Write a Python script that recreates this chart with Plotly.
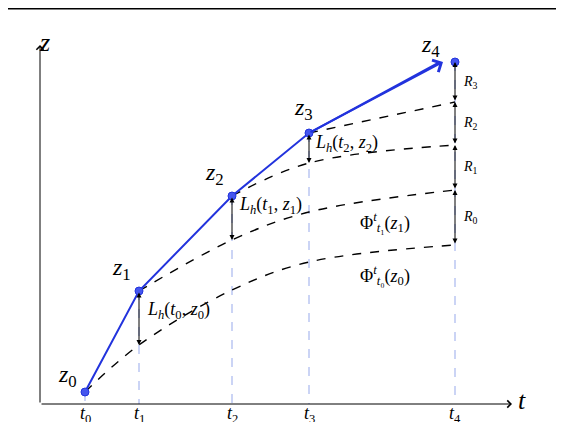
import plotly.graph_objects as go

# diagram data (pixel-like units, y downward)
t_pos = [85, 139, 232, 309, 455]
t_labels = ["<i>t</i><sub>0</sub>", "<i>t</i><sub>1</sub>", "<i>t</i><sub>2</sub>", "<i>t</i><sub>3</sub>", "<i>t</i><sub>4</sub>"]
z_vals = [392, 291, 196, 133, 62]
z_labels = ["<i>z</i><sub>0</sub>", "<i>z</i><sub>1</sub>", "<i>z</i><sub>2</sub>", "<i>z</i><sub>3</sub>", "<i>z</i><sub>4</sub>"]
flow_x = [[85, 139, 232, 309, 455], [139, 232, 309, 455], [232, 309, 455], [309, 455]]
flow_y = [[392, 345, 290, 262, 245], [291, 240, 212, 190], [196, 163, 145], [133, 102]]
R_labels = ["<i>R</i><sub>0</sub>", "<i>R</i><sub>1</sub>", "<i>R</i><sub>2</sub>", "<i>R</i><sub>3</sub>"]
L_labels = ["<i>L<sub>h</sub></i>(<i>t</i><sub>0</sub>, <i>z</i><sub>0</sub>)",
            "<i>L<sub>h</sub></i>(<i>t</i><sub>1</sub>, <i>z</i><sub>1</sub>)",
            "<i>L<sub>h</sub></i>(<i>t</i><sub>2</sub>, <i>z</i><sub>2</sub>)"]
phi_labels = ["Φ<sup><i>t</i></sup><sub><i>t</i>₀</sub>(<i>z</i><sub>0</sub>)",
              "Φ<sup><i>t</i></sup><sub><i>t</i>₁</sub>(<i>z</i><sub>1</sub>)"]
axis_y = 404
FONT = "Liberation Serif"

fig = go.Figure()
for x, y in zip(t_pos, z_vals):
    fig.add_trace(go.Scatter(x=[x, x], y=[y, axis_y], mode="lines",
                             line=dict(color="#a9b8ee", dash="dash", width=1.2), hoverinfo="skip"))
for fx, fy in zip(flow_x, flow_y):
    fig.add_trace(go.Scatter(x=fx, y=fy, mode="lines", line=dict(color="black", dash="dash", width=1.4, shape="spline"),
                             hoverinfo="skip"))
fig.add_trace(go.Scatter(x=t_pos[:4] + [t_pos[4] - 15], y=z_vals, mode="lines", line=dict(color="#2233dd", width=2), hoverinfo="skip"))
fig.add_trace(go.Scatter(x=t_pos, y=z_vals, mode="markers",
                         marker=dict(color="#4455ee", size=8, line=dict(color="#2233dd", width=1)), hoverinfo="skip"))

ann = []
def arrow(x0, y0, x1, y1, side="end", color="black", width=1, head=2, size=1):
    ann.append(dict(x=x1, y=y1, ax=x0, ay=y0, xref="x", yref="y", axref="x", ayref="y", text="",
                    showarrow=True, arrowhead=head, arrowside=side, arrowcolor=color, arrowwidth=width, arrowsize=size))
def text(x, y, s, size=15, xa="center"):
    ann.append(dict(x=x, y=y, xref="x", yref="y", text=s, showarrow=False, xanchor=xa,
                    font=dict(family=FONT, size=size, color="black")))

# axes
arrow(40, axis_y, 40, 45, head=4, size=1.4)
arrow(40, axis_y, 512, axis_y, head=4, size=1.4)
text(44, 42, "<i>z</i>", 26)
text(522, 400, "<i>t</i>", 26)
# blue arrowhead
arrow(t_pos[3], z_vals[3], t_pos[4] - 12, z_vals[4], color="#2233dd", width=2, head=4, size=1.3)
for x, s in zip(t_pos, t_labels):
    text(x, 414, s, 18)
zoff = [(-18, -16), (-18, -22), (-18, -22), (-6, -24), (-25, -16)]
for (dx, dy), x, y, s in zip(zoff, t_pos, z_vals, z_labels):
    text(x + dx, y + dy, s, 24)
# local errors
for i in range(3):
    arrow(t_pos[i + 1], z_vals[i + 1], t_pos[i + 1], flow_y[i][1], side="end+start", head=2, size=1)
text(145, 310, L_labels[0], 18, "left")
text(237, 205, L_labels[1], 18, "left")
text(313, 143, L_labels[2], 18, "left")
text(385, 222, phi_labels[1], 18)
text(385, 275, phi_labels[0], 18)
# R arrows
pts = [flow_y[0][-1], flow_y[1][-1], flow_y[2][-1], flow_y[3][-1], z_vals[4]]
for k in range(4):
    arrow(455, pts[k], 455, pts[k + 1], side="end+start", head=2, size=1)
    text(470, (pts[k] + pts[k + 1]) / 2, R_labels[k], 14)

fig.update_layout(width=548, height=414, margin=dict(l=0, r=0, t=0, b=0), showlegend=False,
                  plot_bgcolor="white", paper_bgcolor="white", annotations=ann,
                  shapes=[dict(type="line", xref="paper", yref="paper", x0=0, x1=1, y0=1, y1=1,
                               line=dict(color="black", width=3))])
fig.update_xaxes(range=[8, 556], visible=False)
fig.update_yaxes(range=[422, 8], visible=False)
fig.write_html("out.html")
